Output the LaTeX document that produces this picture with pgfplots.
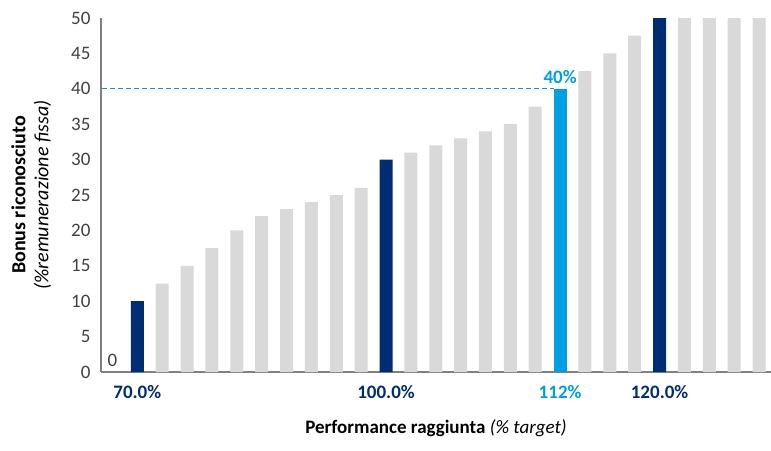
\documentclass[border=0pt]{standalone}
\usepackage{pgfplots}
\pgfplotsset{compat=1.18}
\usepackage{fontspec}
\setmainfont{Carlito}
\definecolor{dkblue}{HTML}{002D72}
\definecolor{ltblue}{HTML}{009FE3}
\definecolor{lgrey}{HTML}{D9D9D9}
\definecolor{txtgrey}{HTML}{404040}
\definecolor{axgrey}{HTML}{808080}
\begin{document}
\begin{tikzpicture}
\path[use as bounding box] (0,0) rectangle (771pt,-450pt);
\begin{axis}[
  at={(101pt,-372pt)}, anchor=south west,
  scale only axis, width=670pt, height=354pt,
  xmin=-0.46, xmax=26.48, ymin=0, ymax=50,
  ybar, bar width=13pt,
  axis x line*=bottom, axis y line*=left,
  axis line style={axgrey, line width=1.1pt, -},
  major tick length=0pt,
  ytick={0,5,...,50},
  yticklabel style={font=\fontsize{19}{22}\selectfont, text=txtgrey, xshift=-7pt},
  /pgf/number format/assume math mode=true,
  xtick={1,11,18,22},
  xticklabels={\textcolor{dkblue}{\textbf{70.0\%}},\textcolor{dkblue}{\textbf{100.0\%}},\textcolor{ltblue}{\textbf{112\%}},\textcolor{dkblue}{\textbf{120.0\%}}},
  xticklabel style={font=\fontsize{19}{22}\selectfont, yshift=-10pt},
  ylabel={\textbf{Bonus riconosciuto}\\\textit{(\%remunerazione fissa)}},
  ylabel style={align=center, font=\fontsize{20}{23}\selectfont, text=black, at={(axis description cs:-0.104,0.5)}, anchor=center},
  xlabel={\textbf{Performance raggiunta} \textit{(\% target)}},
  xlabel style={font=\fontsize{19}{22}\selectfont, text=black, at={(axis description cs:0.5,-0.158)}, anchor=center},
  clip=false,
]
\addplot[ybar, bar shift=0pt, fill=lgrey, draw=none] coordinates {
(2,12.5)(3,15)(4,17.5)(5,20)(6,22)(7,23)(8,24)(9,25)(10,26)
(12,31)(13,32)(14,33)(15,34)(16,35)(17,37.5)
(19,42.5)(20,45)(21,47.5)(23,50)(24,50)(25,50)(26,50)};
\addplot[ybar, bar shift=0pt, fill=dkblue, draw=none] coordinates {(1,10)(11,30)(22,50)};
\addplot[ybar, bar shift=0pt, fill=ltblue, draw=none] coordinates {(18,40)};
\addplot[sharp plot, ltblue, line width=0.9pt, dash pattern=on 5pt off 3pt] coordinates {(-0.42,40)(17.74,40)};
\node[anchor=south, font=\fontsize{19}{22}\selectfont, text=txtgrey, inner sep=2pt] at (axis cs:0,0.5) {0};
\node[anchor=south, font=\fontsize{19}{22}\selectfont\bfseries, text=ltblue, inner sep=2pt] at (axis cs:18,40.4) {40\%};
\end{axis}
\end{tikzpicture}
\end{document}
